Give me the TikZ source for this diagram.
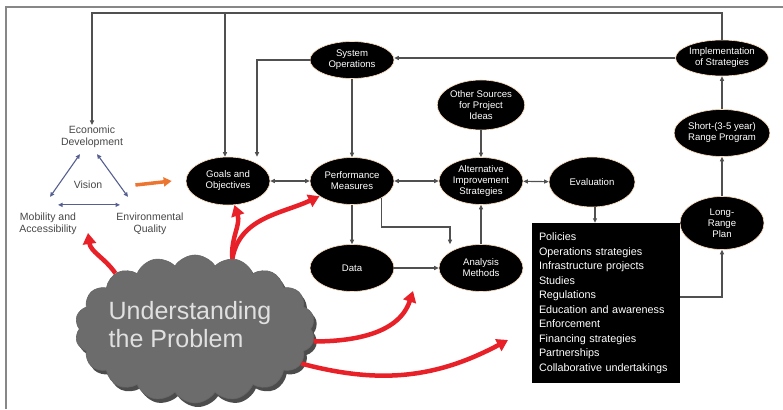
\documentclass[tikz,border=0pt]{standalone}
\usepackage{fontspec}
\setmainfont{Liberation Sans}
\usetikzlibrary{arrows.meta, shapes.geometric, shapes.symbols, shadows, positioning, calc}
\definecolor{linegray}{RGB}{80,80,80}
\definecolor{framegray}{RGB}{135,135,135}
\definecolor{visionblue}{RGB}{85,95,145}
\definecolor{visiontext}{RGB}{70,70,70}
\definecolor{problemred}{RGB}{232,32,40}
\definecolor{visionorange}{RGB}{236,118,48}
\definecolor{cloudgray}{RGB}{108,108,108}

\begin{document}
\begin{tikzpicture}[x=1pt, y=-1pt,
    oval/.style={ellipse, fill=black, draw=orange!25, line width=0.6pt, text=white, align=center,
      inner sep=0pt, minimum width=84pt, minimum height=47pt, font=\fontsize{9.6}{11}\selectfont},
    visionlabel/.style={text=visiontext, align=center, inner sep=1pt, font=\fontsize{10.5}{12}\selectfont},
    link/.style={draw=linegray, line width=1.1pt, -{Triangle[length=4.5pt,width=4pt]}},
    twoway/.style={link, {Triangle[length=4.5pt,width=4pt]}-{Triangle[length=4.5pt,width=4pt]}},
    visionlink/.style={draw=visionblue, line width=1.1pt, {Triangle[length=4.5pt,width=4pt]}-{Triangle[length=4.5pt,width=4pt]}},
    toward/.style={draw=visionorange, line width=3.5pt, -{Triangle[length=8pt,width=9pt]}},
    push/.style={draw=problemred, line width=4.5pt, -{Triangle[length=11pt,width=13pt]}},
    listbox/.style={fill=black, text=white, align=left, inner sep=0pt, minimum width=148pt,
      minimum height=160pt, text width=134pt, font=\fontsize{10.8}{14.5}\selectfont},
    cloudshape/.style={cloud, cloud puffs=18, cloud puff arc=115, aspect=1.6, fill=cloudgray,
      draw=black!60, line width=0.6pt, minimum width=240pt, minimum height=148pt, inner sep=0pt,
      drop shadow={shadow xshift=3pt, shadow yshift=-4pt, fill=black!70, opacity=1}}]

    \useasboundingbox (0,0) rectangle (783,409);
    \draw[framegray, line width=1.2pt] (6,409) -- (6,7) -- (783,7);

    \node[visionlabel] (econ) at (92,137) {Economic\\Development};
    \node[visionlabel] (vision) at (88,185) {Vision};
    \node[visionlabel] (mobility) at (48,224) {Mobility and\\Accessibility};
    \node[visionlabel] (environ) at (150,224) {Environmental\\Quality};

    \node[oval, minimum height=37pt] (sysops) at (352,60) {System\\Operations};
    \node[oval, minimum width=88pt, minimum height=36pt] (impl) at (722,58) {Implementation\\of Strategies};
    \node[oval, minimum height=50pt] (other) at (481,105) {Other Sources\\for Project\\Ideas};
    \node[oval, minimum width=86pt] (short) at (722,133) {Short-(3-5 year)\\Range Program};
    \node[oval, minimum height=48pt] (goals) at (228,181) {Goals and\\Objectives};
    \node[oval] (perf) at (352,181) {Performance\\Measures};
    \node[oval] (alt) at (481,181) {Alternative\\Improvement\\Strategies};
    \node[oval, minimum width=86pt, minimum height=50pt] (eval) at (592,182) {Evaluation};
    \node[oval, minimum height=53pt] (long) at (722,223) {Long-\\Range\\Plan};
    \node[oval] (data) at (352,268) {Data};
    \node[oval] (analysis) at (481,268) {Analysis\\Methods};

    \node[listbox] (options) at (606,303) {Policies\\Operations strategies\\Infrastructure projects\\Studies\\Regulations\\Education and awareness\\Enforcement\\Financing strategies\\Partnerships\\Collaborative undertakings};

    \node[cloudshape] (problem) at (195,329) {};
    \node[text=black!12, align=left, font=\fontsize{25}{28}\selectfont] (problemlabel) at (190,325) {Understanding\\the Problem};

    \coordinate (topline) at (0,13);
    \coordinate (midrow) at (0,227);
    \coordinate (tomobility) at (88,233);
    \coordinate (toanalysis) at (413,291);
    \coordinate (tooptions) at (508,340);

    \draw[link] (impl.north) -- (impl.north |- topline) -| (econ.north);
    \draw[link] ([xshift=-3pt]goals.north |- topline) -- ([xshift=-3pt]goals.north);
    \draw[link] (impl.west) -- (impl.west -| sysops.east);
    \draw[link] (sysops.west) -| ([xshift=29pt]goals.north);
    \draw[link] (sysops) -- (perf);
    \draw[twoway] (goals) -- (perf);
    \draw[twoway] (perf) -- (alt);
    \draw[twoway] (alt) -- (eval);
    \draw[link] (other) -- (alt);
    \draw[link] (perf) -- (data);
    \draw[link] (perf.-30) -- (perf.-30 |- midrow) -| ([xshift=-31pt]analysis.north);
    \draw[link] (data) -- (analysis);
    \draw[link] (analysis) -- (alt);
    \draw[link] ([xshift=3pt]eval.south) -- ([xshift=3pt]eval.south |- options.north);
    \draw[link] ([yshift=6pt]options.east) -| (long.south);
    \draw[link] (long) -- (short);
    \draw[link] (short) -- (impl);

    \draw[visionlink] ($(econ.south)+(-12,5)$) -- ($(mobility.north)+(2,-15)$);
    \draw[visionlink] ($(econ.south)+(5,5)$) -- ($(environ.north)+(-22,-15)$);
    \draw[visionlink] ($(mobility.north)+(10,-7)$) -- ($(environ.north)+(-30,-7)$);
    \draw[toward] ([xshift=32pt]vision.east) -- ([xshift=-14pt]goals.west);

    \draw[push] (problem.145) to[out=125, in=-82] (tomobility);
    \draw[push] (problem.62) to[out=95, in=-72] (goals.285);
    \draw[push] (problem.62) to[out=80, in=205] (perf.205);
    \draw[push] (problem.-6) to[out=0, in=-108] (toanalysis);
    \draw[push] (problem.-18) to[out=-15, in=208] (tooptions);
  \end{tikzpicture}
\end{document}
